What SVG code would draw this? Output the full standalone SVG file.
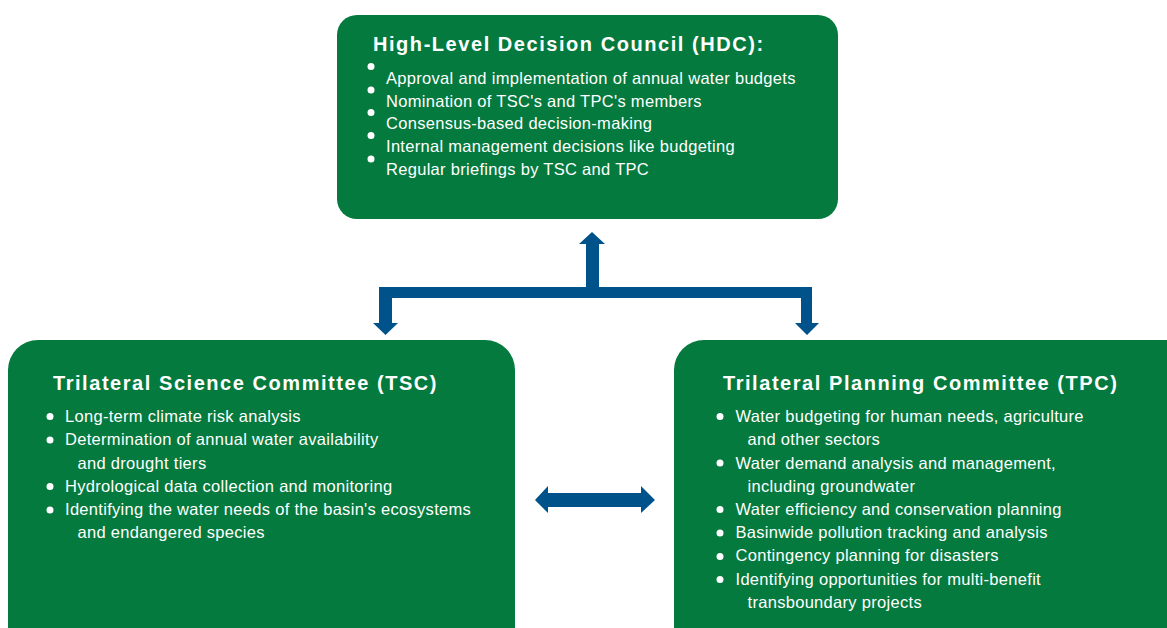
<svg xmlns="http://www.w3.org/2000/svg" width="1167" height="628" viewBox="0 0 1167 628">
<defs>
<style>
.box{fill:#047A3E}
.arrow{fill:#00538A}
.title{font-family:"Liberation Sans",Arial,sans-serif;font-weight:bold;font-size:20px;letter-spacing:1.55px;fill:#FFFFFF}
.item{font-family:"Liberation Sans",Arial,sans-serif;font-size:16.5px;letter-spacing:0.3px;fill:#FFFFFF}
.dot{fill:#FFFFFF}
</style>
</defs>
<rect width="1167" height="628" fill="#FFFFFF"/>
<g id="connectors">
<polygon class="arrow" points="586,244 579,244 592,232 605,244 599,244 599,287 812,287 812,323 819,323 807,335 795,323 801,323 801,298 392,298 392,323 398,323 385.5,335 373,323 379,323 379,287 586,287"/>
<polygon class="arrow" points="535,500 548,486 548,493 641,493 641,486 655,500 641,513 641,507 548,507 548,513"/>
</g>
<g id="hdc">
<rect class="box" x="337" y="15" width="501" height="204" rx="20"/>
<text class="title" x="373" y="51">High-Level Decision Council (HDC):</text>
<circle class="dot" cx="371" cy="66.5" r="3.5"/>
<circle class="dot" cx="371" cy="90" r="3.5"/>
<circle class="dot" cx="371" cy="112.5" r="3.5"/>
<circle class="dot" cx="371" cy="135.5" r="3.5"/>
<circle class="dot" cx="371" cy="159" r="3.5"/>
<text class="item" x="386" y="84">Approval and implementation of annual water budgets</text>
<text class="item" x="386" y="106.5">Nomination of TSC's and TPC's members</text>
<text class="item" x="386" y="129">Consensus-based decision-making</text>
<text class="item" x="386" y="152">Internal management decisions like budgeting</text>
<text class="item" x="386" y="175">Regular briefings by TSC and TPC</text>
</g>
<g id="tsc">
<rect class="box" x="8" y="340" width="507" height="320" rx="30"/>
<text class="title" x="53" y="390">Trilateral Science Committee (TSC)</text>
<circle class="dot" cx="50" cy="416.5" r="3.5"/>
<circle class="dot" cx="50" cy="440" r="3.5"/>
<circle class="dot" cx="50" cy="486.5" r="3.5"/>
<circle class="dot" cx="50" cy="510" r="3.5"/>
<text class="item" x="65" y="421.5">Long-term climate risk analysis</text>
<text class="item" x="65" y="445">Determination of annual water availability</text>
<text class="item" x="77.5" y="468.5">and drought tiers</text>
<text class="item" x="65" y="491.5">Hydrological data collection and monitoring</text>
<text class="item" x="65" y="515">Identifying the water needs of the basin's ecosystems</text>
<text class="item" x="77.5" y="538">and endangered species</text>
</g>
<g id="tpc">
<rect class="box" x="674" y="340" width="530" height="320" rx="30"/>
<text class="title" x="723" y="390">Trilateral Planning Committee (TPC)</text>
<circle class="dot" cx="720" cy="416.5" r="3.5"/>
<circle class="dot" cx="720" cy="463" r="3.5"/>
<circle class="dot" cx="720" cy="509.5" r="3.5"/>
<circle class="dot" cx="720" cy="533" r="3.5"/>
<circle class="dot" cx="720" cy="556.5" r="3.5"/>
<circle class="dot" cx="720" cy="579.5" r="3.5"/>
<text class="item" x="735.5" y="421.5">Water budgeting for human needs, agriculture</text>
<text class="item" x="747.5" y="445">and other sectors</text>
<text class="item" x="735.5" y="468.5">Water demand analysis and management,</text>
<text class="item" x="747.5" y="491.5">including groundwater</text>
<text class="item" x="735.5" y="515">Water efficiency and conservation planning</text>
<text class="item" x="735.5" y="538">Basinwide pollution tracking and analysis</text>
<text class="item" x="735.5" y="561">Contingency planning for disasters</text>
<text class="item" x="735.5" y="584.5">Identifying opportunities for multi-benefit</text>
<text class="item" x="747.5" y="607.5">transboundary projects</text>
</g>
</svg>
